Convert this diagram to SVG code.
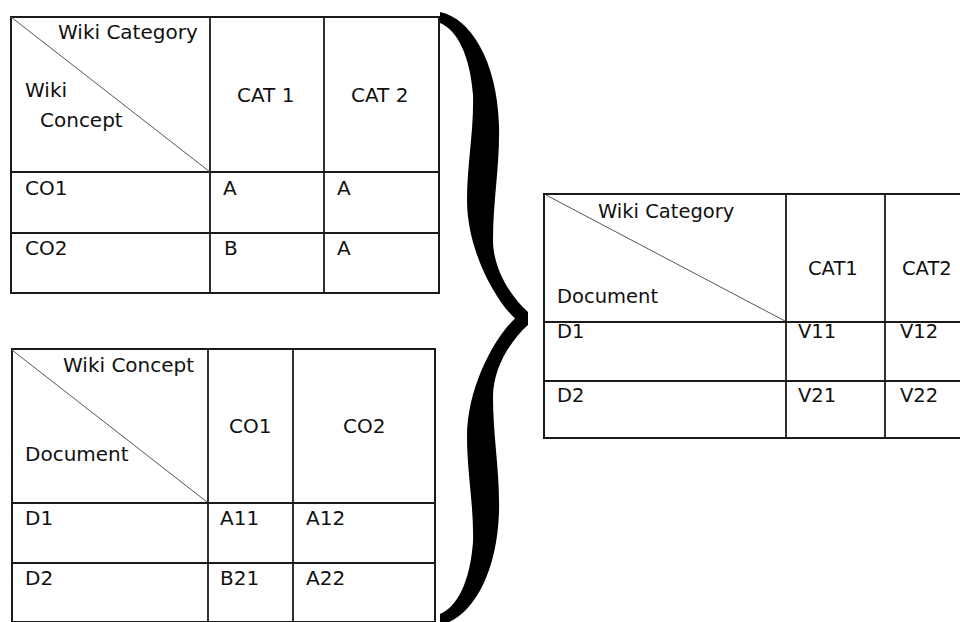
<svg xmlns="http://www.w3.org/2000/svg" width="960" height="622" viewBox="0 0 960 622">
  <style>
    .grid { fill: none; stroke: #1a1a1a; stroke-width: 2; }
    .inner { stroke: #1a1a1a; stroke-width: 1.8; fill: none; }
    .diag { stroke: #555; stroke-width: 1; fill: none; }
    text { font-family: "DejaVu Sans", Verdana, sans-serif; font-size: 20px; fill: #111; }
    .t3 text { font-size: 19.5px; }
  </style>
  <rect width="960" height="622" fill="#fff"/>

  <!-- Concept x Category table -->
  <g id="concept-category">
    <rect class="grid" x="11" y="17" width="428" height="276"/>
    <line class="inner" x1="210" y1="17" x2="210" y2="293"/>
    <line class="inner" x1="324" y1="17" x2="324" y2="293"/>
    <line class="inner" x1="11" y1="172" x2="439" y2="172"/>
    <line class="inner" x1="11" y1="233" x2="439" y2="233"/>
    <line class="diag" x1="11" y1="17" x2="210" y2="172"/>
    <text x="58" y="39">Wiki Category</text>
    <text x="25" y="97">Wiki</text>
    <text x="40" y="127">Concept</text>
    <text x="237" y="102">CAT 1</text>
    <text x="351" y="102">CAT 2</text>
    <text x="25" y="195">CO1</text>
    <text x="223" y="195">A</text>
    <text x="337" y="195">A</text>
    <text x="25" y="255">CO2</text>
    <text x="224" y="255">B</text>
    <text x="337" y="255">A</text>
  </g>

  <!-- Document x Concept table -->
  <g id="document-concept">
    <rect class="grid" x="12" y="349" width="423" height="273"/>
    <line class="inner" x1="208" y1="349" x2="208" y2="622"/>
    <line class="inner" x1="293" y1="349" x2="293" y2="622"/>
    <line class="inner" x1="12" y1="503" x2="435" y2="503"/>
    <line class="inner" x1="12" y1="563" x2="435" y2="563"/>
    <line class="diag" x1="12" y1="350" x2="207" y2="502"/>
    <text x="63" y="372">Wiki Concept</text>
    <text x="25" y="461">Document</text>
    <text x="229" y="433">CO1</text>
    <text x="343" y="433">CO2</text>
    <text x="25" y="525">D1</text>
    <text x="220" y="525">A11</text>
    <text x="306" y="525">A12</text>
    <text x="25" y="585">D2</text>
    <text x="220" y="585">B21</text>
    <text x="306" y="585">A22</text>
  </g>

  <!-- Curly brace joining the two tables (symmetric about y=318.5) -->
  <g id="brace">
    <path fill="#000" d="M 440 12
      C 470 18, 497 60, 499 125
      C 500 165, 493 200, 493 240
      C 493 270, 512 298, 528 312
      L 528 325
      C 512 339, 493 367, 493 397
      C 493 437, 500 472, 499 512
      C 497 577, 470 619, 440 625
      L 440 614
      C 457 607, 470 582, 473 542
      C 474 507, 467 472, 467 437
      C 467 387, 495 337, 515 318.5
      C 495 300, 467 250, 467 200
      C 467 165, 474 130, 473 95
      C 470 55, 457 30, 440 23 Z"/>
  </g>

  <!-- Document x Category result table -->
  <g id="document-category" class="t3">
    <rect class="grid" x="544" y="194" width="420" height="244"/>
    <line class="inner" x1="786" y1="194" x2="786" y2="438"/>
    <line class="inner" x1="885" y1="194" x2="885" y2="438"/>
    <line class="inner" x1="544" y1="322" x2="960" y2="322"/>
    <line class="inner" x1="544" y1="381" x2="960" y2="381"/>
    <line class="diag" x1="546" y1="195" x2="785" y2="321"/>
    <text x="598" y="218">Wiki Category</text>
    <text x="557" y="303">Document</text>
    <text x="808" y="275">CAT1</text>
    <text x="902" y="275">CAT2</text>
    <text x="557" y="338">D1</text>
    <text x="798" y="338">V11</text>
    <text x="900" y="338">V12</text>
    <text x="557" y="402">D2</text>
    <text x="798" y="402">V21</text>
    <text x="900" y="402">V22</text>
  </g>
</svg>
